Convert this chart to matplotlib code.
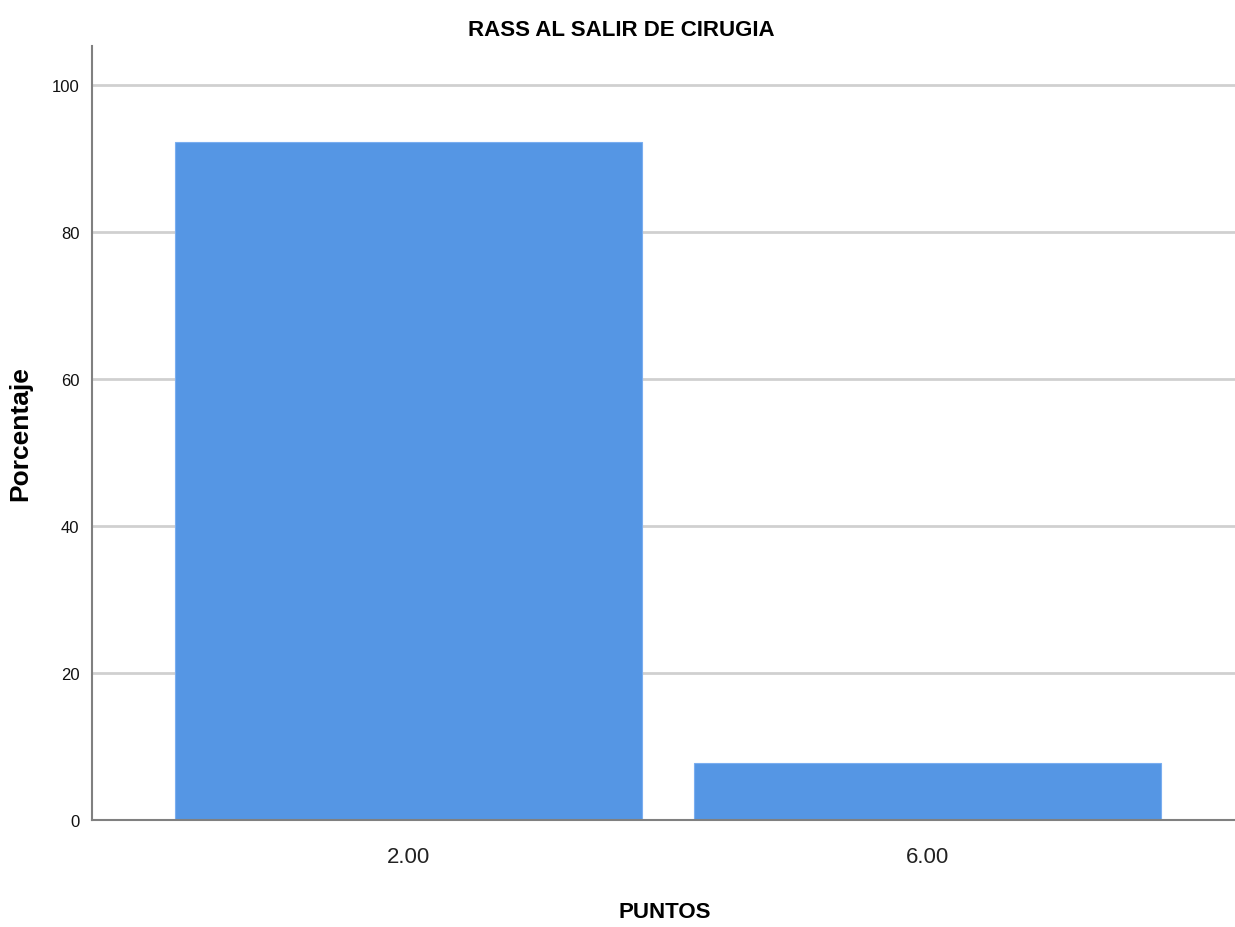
import matplotlib
matplotlib.use('Agg')
import matplotlib.pyplot as plt
import numpy as np

categories = ["2.00", "6.00"]
percentages = [92.3, 7.7]
yticks = [0, 20, 40, 60, 80, 100]

narrow = ['Liberation Sans Narrow', 'Liberation Sans', 'DejaVu Sans']
wide = ['Liberation Sans', 'DejaVu Sans']

fig = plt.figure(figsize=(12.35, 9.28), dpi=100)
ax = fig.add_axes([0.0745, 0.1153, 0.9255, 0.8341])

x = np.arange(len(categories))
ax.bar(x, percentages, width=0.9, color='#5596e4', edgecolor='#7aaef0',
       linewidth=0.8, zorder=3)

ax.set_xlim(-0.609, 1.593)
ax.set_ylim(0, 105.3)
ax.set_yticks(yticks)
ax.set_xticks(x)
ax.set_xticklabels(categories, family=narrow, fontsize=16, color='#222222')
ax.set_yticklabels([str(v) for v in yticks], family=narrow, fontsize=12, color='#111111')
ax.tick_params(axis='both', length=0)
ax.tick_params(axis='x', pad=19)
ax.tick_params(axis='y', pad=9)

ax.grid(axis='y', color='#d0d0d0', linewidth=2, zorder=0)
ax.set_axisbelow(True)
for side in ['top', 'right']:
    ax.spines[side].set_visible(False)
for side in ['left', 'bottom']:
    ax.spines[side].set_color('#808080')
    ax.spines[side].set_linewidth(1.5)
    ax.spines[side].set_zorder(4)

ax.set_xlabel("PUNTOS", family=narrow, fontsize=16, fontweight='bold')
ax.xaxis.set_label_coords(0.501, -0.105)
ax.set_ylabel("Porcentaje", family=wide, fontsize=19, fontweight='bold')
ax.yaxis.set_label_coords(-0.052, 0.5)
fig.text(0.503, 0.967, "RASS AL SALIR DE CIRUGIA", family=narrow, fontsize=16,
         fontweight='bold', ha='center', va='center')

fig.savefig("out.png", dpi=100)
